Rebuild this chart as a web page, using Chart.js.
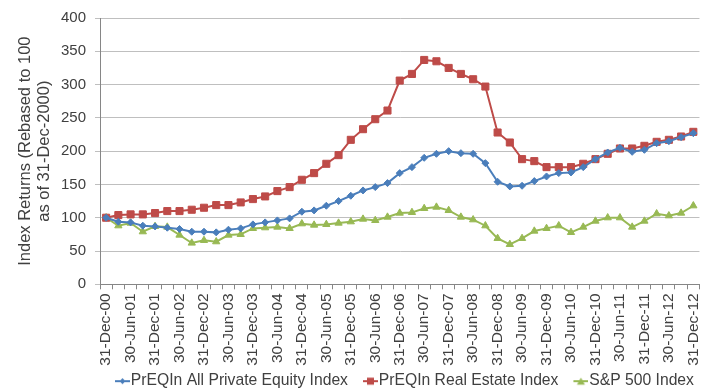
<!DOCTYPE html>
<html>
<head>
<meta charset="utf-8">
<script src="https://cdn.jsdelivr.net/npm/chart.js@4.4.0/dist/chart.umd.min.js"></script>
<style>
  html, body { margin: 0; padding: 0; background: #fff; }
  #wrap { width: 716px; height: 390px; }
</style>
</head>
<body>
<div id="wrap"><canvas id="myLine"></canvas></div>
<script>
// quarter ends, only every second one gets a label on the axis
const quarters = [
  '31-Dec-00','31-Mar-01','30-Jun-01','30-Sep-01','31-Dec-01','31-Mar-02','30-Jun-02','30-Sep-02',
  '31-Dec-02','31-Mar-03','30-Jun-03','30-Sep-03','31-Dec-03','31-Mar-04','30-Jun-04','30-Sep-04',
  '31-Dec-04','31-Mar-05','30-Jun-05','30-Sep-05','31-Dec-05','31-Mar-06','30-Jun-06','30-Sep-06',
  '31-Dec-06','31-Mar-07','30-Jun-07','30-Sep-07','31-Dec-07','31-Mar-08','30-Jun-08','30-Sep-08',
  '31-Dec-08','31-Mar-09','30-Jun-09','30-Sep-09','31-Dec-09','31-Mar-10','30-Jun-10','30-Sep-10',
  '31-Dec-10','31-Mar-11','30-Jun-11','30-Sep-11','31-Dec-11','31-Mar-12','30-Jun-12','30-Sep-12',
  '31-Dec-12'
]

const privateEquity = [
  100, 94, 93, 88, 87, 85, 83, 79, 79, 78, 82, 84,
  90, 93, 96, 99, 109, 111, 118, 125, 133, 141, 146, 152,
  167, 176, 190, 196, 200, 197, 196, 182, 154, 147, 148, 155,
  162, 167, 168, 176, 188, 198, 205, 199, 202, 212, 215, 221,
  227
]
const realEstate = [
  100, 104, 105, 105, 107, 110, 110, 112, 115, 119, 119, 123,
  128, 132, 140, 146, 157, 167, 181, 194, 217, 233, 248, 261,
  306, 316, 337, 335, 325, 316, 308, 297, 228, 213, 188, 185,
  176, 176, 176, 181, 188, 196, 204, 204, 208, 214, 217, 222,
  229
]
const sp500 = [
  100, 88, 92, 79, 87, 86, 74, 62, 66, 64, 74, 75,
  84, 85, 86, 84, 91, 89, 90, 92, 94, 98, 96, 101,
  107, 108, 114, 116, 111, 101, 97, 88, 69, 60, 69, 80,
  84, 88, 78, 86, 95, 100, 100, 86, 95, 106, 103, 107,
  118
]

const seriesNames = ['PrEQIn All Private Equity Index', 'PrEQIn Real Estate Index', 'S&P 500 Index']
const seriesColors = ['#4A7EBB', '#BE4B48', '#98B954']
const markerStyles = ['rectRot', 'rect', 'triangle']
const markerSizes = [3.5, 5, 4.2]

const yTicks = [0, 50, 100, 150, 200, 250, 300, 350, 400]

const FONT = "'Liberation Sans', Arial, sans-serif"
const TEXT = '#404040'

// legend icon: short line with the marker in the middle, drawn at the right
// end of a wider transparent canvas so it sits close to its text
function legendIcon(i) {
  const c = document.createElement('canvas')
  c.width = 32
  c.height = 10
  const g = c.getContext('2d')
  const x0 = 17, mid = 24.5
  g.strokeStyle = seriesColors[i]
  g.fillStyle = seriesColors[i]
  g.lineWidth = 2
  g.beginPath()
  g.moveTo(x0, 5)
  g.lineTo(32, 5)
  g.stroke()
  g.beginPath()
  if (i === 0) {
    g.moveTo(mid, 2); g.lineTo(mid + 3, 5); g.lineTo(mid, 8); g.lineTo(mid - 3, 5)
  } else if (i === 1) {
    g.rect(mid - 3.5, 1.5, 7, 7)
  } else {
    g.moveTo(mid, 1.5); g.lineTo(mid + 4, 8.5); g.lineTo(mid - 4, 8.5)
  }
  g.closePath()
  g.fill()
  return c
}
const icons = [legendIcon(0), legendIcon(1), legendIcon(2)]

const allSeries = [privateEquity, realEstate, sp500]

const data = {
  labels: quarters,
  datasets: allSeries.map((vals, i) => ({
    label: seriesNames[i],
    data: vals,
    borderColor: seriesColors[i],
    backgroundColor: seriesColors[i],
    borderWidth: 2,
    pointStyle: markerStyles[i],
    pointRadius: markerSizes[i],
    pointBorderWidth: 1,
    pointBorderColor: seriesColors[i],
    pointBackgroundColor: seriesColors[i],
    tension: 0
  }))
}

const config = {
  type: 'line',
  data: data,
  options: {
    responsive: true,
    maintainAspectRatio: false,
    animation: false,
    layout: { padding: { left: 0, right: 6, top: 17, bottom: -9 } },
    plugins: {
      tooltip: { enabled: false },
      legend: {
        position: 'bottom',
        fullSize: false,
        align: 'start',
        labels: {
          font: { family: FONT, size: 15.7 },
          color: TEXT,
          usePointStyle: true,
          pointStyleWidth: 18,
          padding: 5,
          generateLabels: chart => chart.data.datasets.map((ds, i) => ({
            text: ds.label,
            pointStyle: icons[i],
            fillStyle: seriesColors[i],
            strokeStyle: seriesColors[i],
            lineWidth: 0,
            fontColor: TEXT,
            datasetIndex: i
          }))
        }
      }
    },
    scales: {
      x: {
        offset: true,
        grid: {
          display: true,
          offset: true,
          drawOnChartArea: false,
          drawTicks: true,
          tickLength: 5,
          color: '#868686'
        },
        border: { display: true, color: '#868686', width: 1 },
        ticks: {
          autoSkip: false,
          maxRotation: 90,
          minRotation: 90,
          padding: 4,
          font: { family: FONT, size: 15.5 },
          color: TEXT,
          callback: function (val, idx) {
            return idx % 2 === 0 ? quarters[idx] : ''
          }
        },
        afterFit: scale => { scale.height = 84 }
      },
      y: {
        min: 0,
        max: 400,
        afterBuildTicks: scale => { scale.ticks = yTicks.map(v => ({ value: v })) },
        grid: { color: '#BFBFBF', lineWidth: 1, tickLength: 5 },
        border: { display: true, color: '#868686', width: 1 },
        ticks: {
          padding: 9,
          font: { family: FONT, size: 15 },
          color: TEXT
        },
        title: {
          display: true,
          text: ['Index Returns (Rebased to 100', 'as of 31-Dec-2000)'],
          font: { family: FONT, size: 16.5, lineHeight: 1.15 },
          color: TEXT,
          padding: { top: 16, bottom: 0 }
        },
        afterFit: scale => { scale.width = 100 }
      }
    }
  }
}

const myChart = new Chart(document.getElementById('myLine'), config)
</script>
</body>
</html>
